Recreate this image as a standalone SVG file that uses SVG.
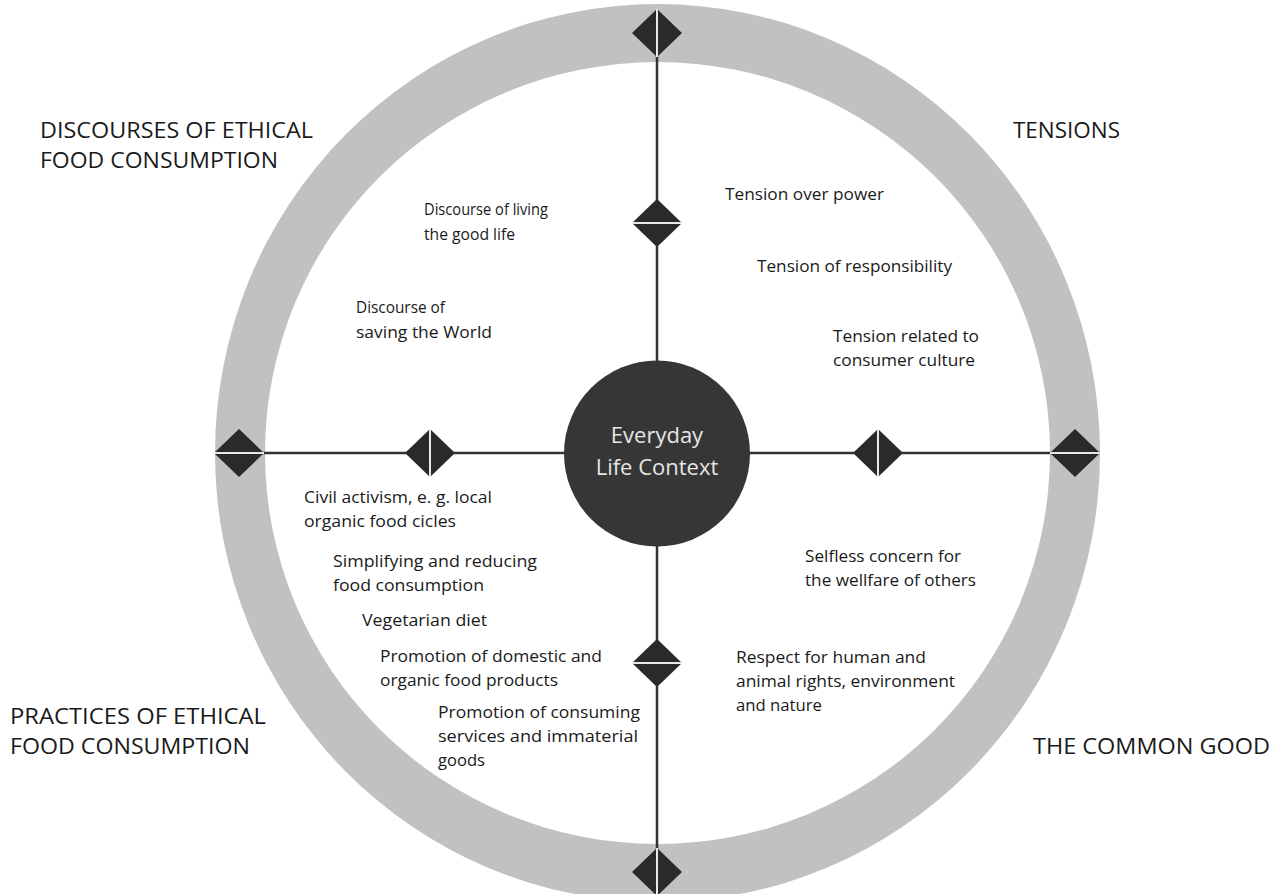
<svg xmlns="http://www.w3.org/2000/svg" xmlns:xlink="http://www.w3.org/1999/xlink" width="1281" height="894" viewBox="0 0 1281 894">
<style>
.ring{fill:#c1c1c1;fill-rule:evenodd}
.axis{stroke:#333;stroke-width:2.5;fill:none}
.dia{fill:#2a2a2a}
.gap{stroke:#e8e8e8;stroke-width:2;fill:none}
.hd{font-family:"Open Sans","DejaVu Sans",sans-serif;font-size:21.5px;fill:#1a1a1a}
.tx{font-family:"Open Sans","DejaVu Sans",sans-serif;font-size:16px;fill:#1a1a1a}
.ct{font-family:"Open Sans","DejaVu Sans",sans-serif;font-size:22px;fill:#e6e6e6}
</style>
<defs>
<polygon id="d" points="0,-24 25,0 0,24 -25,0"/>
</defs>
<rect width="1281" height="894" fill="#fff"/>
<path class="ring" d="M215,453 A442.5,449 0 1,0 1100,453 A442.5,449 0 1,0 215,453 Z M265,453 A392.5,391 0 1,0 1050,453 A392.5,391 0 1,0 265,453 Z"/>
<g id="connectors">
<line class="axis" x1="657" y1="10" x2="657" y2="894"/>
<line class="axis" x1="215" y1="453" x2="1100" y2="453"/>
</g>
<g id="node-top-outer"><use href="#d" class="dia" x="657" y="33"/><line class="gap" x1="657" y1="9" x2="657" y2="57"/></g>
<g id="node-bottom-outer"><use href="#d" class="dia" x="657" y="872"/><line class="gap" x1="657" y1="848" x2="657" y2="894"/></g>
<g id="node-left-outer"><use href="#d" class="dia" x="239" y="453"/><line class="gap" x1="214" y1="453" x2="264" y2="453"/></g>
<g id="node-right-outer"><use href="#d" class="dia" x="1075" y="453"/><line class="gap" x1="1050" y1="453" x2="1100" y2="453"/></g>
<g id="node-top-inner"><use href="#d" class="dia" x="657" y="223"/><line class="gap" x1="632" y1="223" x2="682" y2="223"/></g>
<g id="node-bottom-inner"><use href="#d" class="dia" x="657" y="663"/><line class="gap" x1="632" y1="663" x2="682" y2="663"/></g>
<g id="node-left-inner"><use href="#d" class="dia" x="430" y="453"/><line class="gap" x1="430" y1="429" x2="430" y2="477"/></g>
<g id="node-right-inner"><use href="#d" class="dia" x="878" y="453"/><line class="gap" x1="878" y1="429" x2="878" y2="477"/></g>
<g id="node-center">
<circle cx="657" cy="453.5" r="93" fill="#363636"/>
<text class="ct" x="657" y="443" text-anchor="middle">Everyday</text>
<text class="ct" x="657" y="475" text-anchor="middle">Life Context</text>
</g>
<g id="headings">
<text class="hd" x="40" y="138" textLength="273" lengthAdjust="spacingAndGlyphs">DISCOURSES OF ETHICAL</text>
<text class="hd" x="40" y="168" textLength="238" lengthAdjust="spacingAndGlyphs">FOOD CONSUMPTION</text>
<text class="hd" x="1013" y="138" textLength="107" lengthAdjust="spacingAndGlyphs">TENSIONS</text>
<text class="hd" x="10" y="724" textLength="256" lengthAdjust="spacingAndGlyphs">PRACTICES OF ETHICAL</text>
<text class="hd" x="10" y="754" textLength="240" lengthAdjust="spacingAndGlyphs">FOOD CONSUMPTION</text>
<text class="hd" x="1033" y="754" textLength="237" lengthAdjust="spacingAndGlyphs">THE COMMON GOOD</text>
</g>
<g id="labels">
<text class="tx" x="424" y="215" textLength="124" lengthAdjust="spacingAndGlyphs">Discourse of living</text>
<text class="tx" x="424" y="240" textLength="91" lengthAdjust="spacingAndGlyphs">the good life</text>
<text class="tx" x="356" y="313" textLength="89" lengthAdjust="spacingAndGlyphs">Discourse of</text>
<text class="tx" x="356" y="338" textLength="136" lengthAdjust="spacingAndGlyphs">saving the World</text>
<text class="tx" x="725" y="200" textLength="159" lengthAdjust="spacingAndGlyphs">Tension over power</text>
<text class="tx" x="757" y="272" textLength="195" lengthAdjust="spacingAndGlyphs">Tension of responsibility</text>
<text class="tx" x="833" y="342" textLength="146" lengthAdjust="spacingAndGlyphs">Tension related to</text>
<text class="tx" x="833" y="366" textLength="142" lengthAdjust="spacingAndGlyphs">consumer culture</text>
<text class="tx" x="304" y="503" textLength="188" lengthAdjust="spacingAndGlyphs">Civil activism, e. g. local</text>
<text class="tx" x="304" y="527" textLength="152" lengthAdjust="spacingAndGlyphs">organic food cicles</text>
<text class="tx" x="333" y="567" textLength="204" lengthAdjust="spacingAndGlyphs">Simplifying and reducing</text>
<text class="tx" x="333" y="591" textLength="151" lengthAdjust="spacingAndGlyphs">food consumption</text>
<text class="tx" x="362" y="626" textLength="125" lengthAdjust="spacingAndGlyphs">Vegetarian diet</text>
<text class="tx" x="380" y="662" textLength="222" lengthAdjust="spacingAndGlyphs">Promotion of domestic and</text>
<text class="tx" x="380" y="686" textLength="178" lengthAdjust="spacingAndGlyphs">organic food products</text>
<text class="tx" x="438" y="718" textLength="202" lengthAdjust="spacingAndGlyphs">Promotion of consuming</text>
<text class="tx" x="438" y="742" textLength="200" lengthAdjust="spacingAndGlyphs">services and immaterial</text>
<text class="tx" x="438" y="766" textLength="47" lengthAdjust="spacingAndGlyphs">goods</text>
<text class="tx" x="805" y="562" textLength="156" lengthAdjust="spacingAndGlyphs">Selfless concern for</text>
<text class="tx" x="805" y="586" textLength="171" lengthAdjust="spacingAndGlyphs">the wellfare of others</text>
<text class="tx" x="736" y="663" textLength="190" lengthAdjust="spacingAndGlyphs">Respect for human and</text>
<text class="tx" x="736" y="687" textLength="219" lengthAdjust="spacingAndGlyphs">animal rights, environment</text>
<text class="tx" x="736" y="711" textLength="86" lengthAdjust="spacingAndGlyphs">and nature</text>
</g>
</svg>
